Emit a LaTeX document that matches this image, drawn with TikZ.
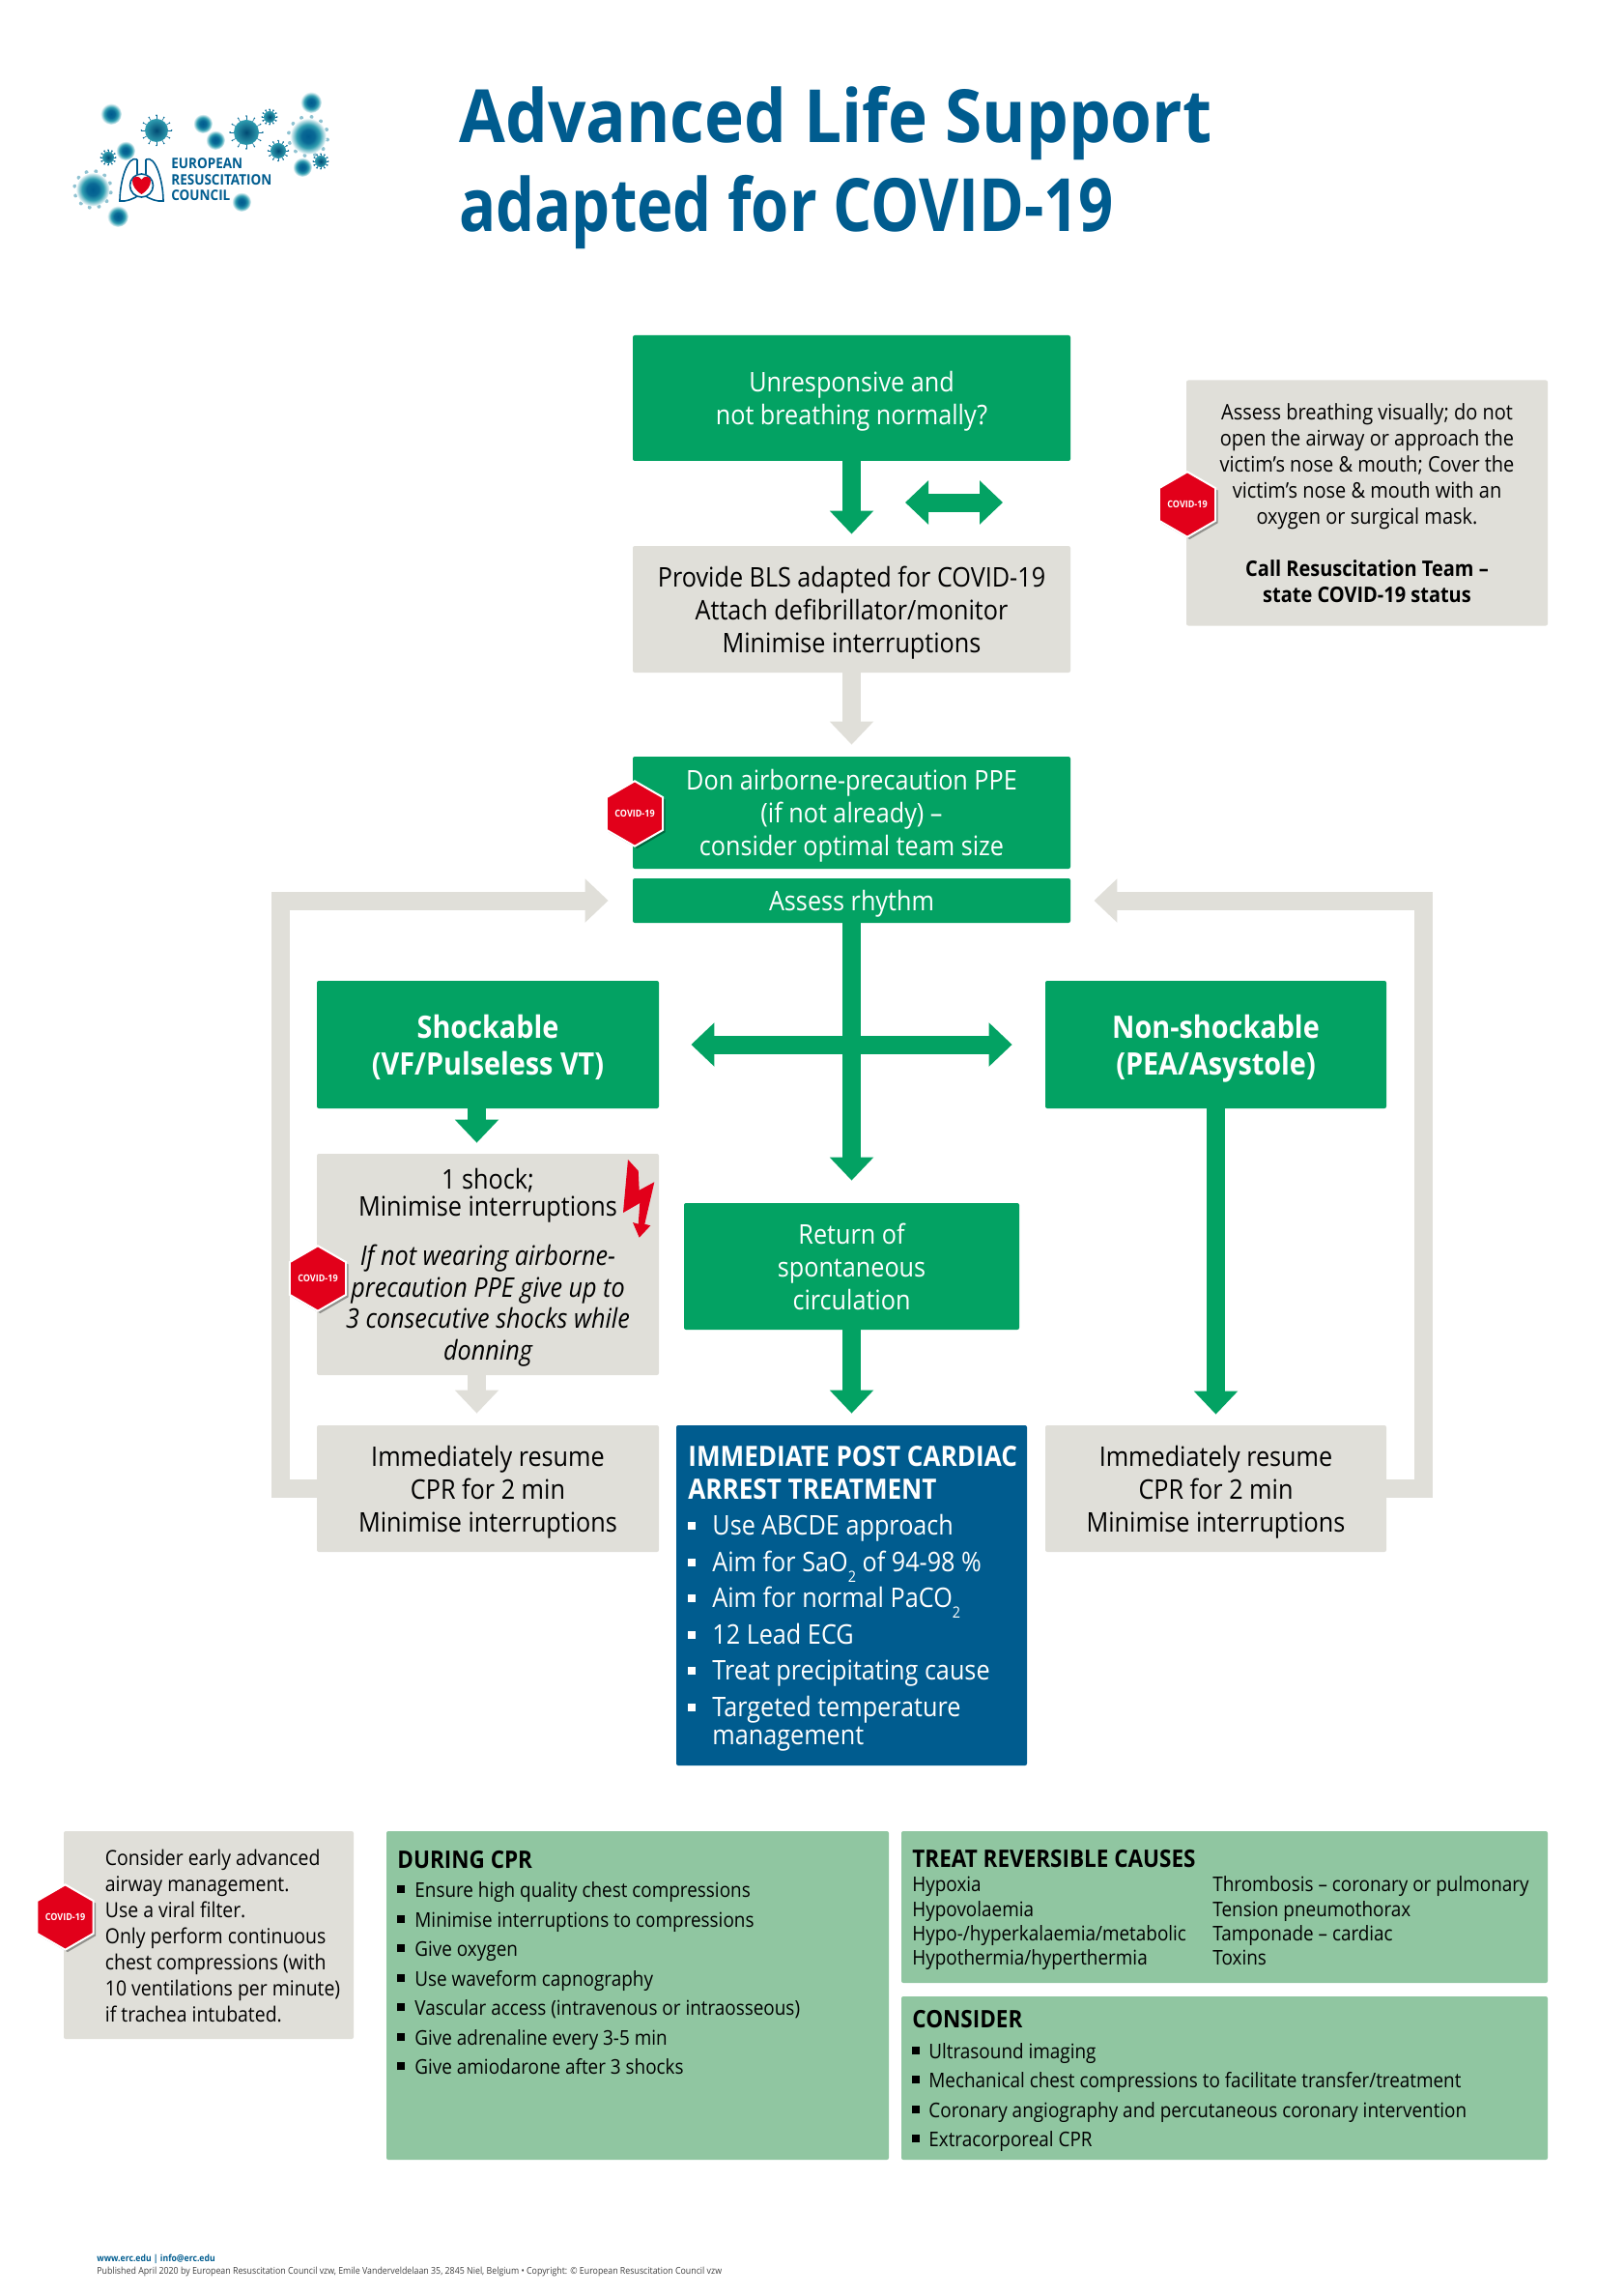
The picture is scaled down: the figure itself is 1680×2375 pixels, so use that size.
\documentclass[tikz,border=0pt]{standalone}
\usepackage{fontspec}
\setmainfont{Open Sans}[FakeStretch=0.9]
\newfontfamily\titlefont{Open Sans}[FakeStretch=0.912]
\newfontfamily\titlefontb{Open Sans}[FakeStretch=0.833]
\usetikzlibrary{arrows.meta,shapes.geometric,shadows,calc}
\definecolor{ercgreen}{HTML}{03A263}
\definecolor{ercgrey}{HTML}{E0DFD9}
\definecolor{ercblue}{HTML}{005C8F}
\definecolor{erclight}{HTML}{90C6A1}
\definecolor{ercred}{HTML}{E2001A}
\definecolor{ercteal}{HTML}{2F9DB0}
\pgfdeclareradialshading{fuzzy}{\pgfpoint{0bp}{0bp}}{color(0bp)=(ercblue); color(9bp)=(ercblue!80!ercteal); color(16bp)=(ercteal); color(25bp)=(white); color(50bp)=(white)}
\newcommand{\sqb}[1]{\makebox[#1][l]{\rule[.18em]{4pt}{4pt}}}
\newcommand{\lowtwo}{\raisebox{-.75ex}{\fontsize{8}{8}\selectfont 2}}
\tikzset{
    panel/.style={rectangle, rounded corners=1pt, inner sep=0pt, align=center, font=\fontsize{14}{17}\selectfont, text depth=-1.1pt},
    greenbox/.style={panel, fill=ercgreen, text=white},
    greybox/.style={panel, fill=ercgrey, text=black},
    lightbox/.style={panel, fill=erclight},
    bluebox/.style={panel, fill=ercblue},
    greenarrow/.style={draw=ercgreen, line width=9.5pt, -{Triangle[width=22pt,length=12pt]}},
    greyarrow/.style={draw=ercgrey, line width=9.5pt, -{Triangle[width=22pt,length=12pt]}},
    bothways/.style={draw=ercgreen, line width=9.5pt, {Triangle[width=22pt,length=12pt]}-{Triangle[width=22pt,length=12pt]}},
    covidhex/.style={regular polygon, regular polygon sides=6, shape border rotate=30, fill=ercred, draw=white, line width=1pt, minimum size=31pt, inner sep=0pt, text=white, font=\bfseries\fontsize{5}{6}\selectfont, drop shadow={shadow xshift=1.2pt, shadow yshift=-1.2pt, fill=black, opacity=.35}},
    bluetext/.style={anchor=base west, inner sep=0pt, text=white, font=\fontsize{14}{15}\selectfont},
    cprtext/.style={anchor=base west, inner sep=0pt, font=\fontsize{10.5}{12}\selectfont},
    headtext/.style={anchor=base west, inner sep=0pt, font=\bfseries\fontsize{12.5}{14}\selectfont},
    logotext/.style={anchor=base west, inner sep=0pt, text=ercblue, font=\bfseries\fontsize{7.5}{8}\selectfont},
}
\begin{document}
\begin{tikzpicture}[x=.5pt, y=-.5pt]
    \useasboundingbox (0, 0) rectangle (1680, 2375);

    % logo
    \foreach \vx/\vy/\vr in {162/135/12, 255/137/13, 279/121/6, 288/156/8, 332/167/6, 112/163/6} {
        \foreach \a in {0, 30, ..., 330} {
            \draw[ercblue!70!ercteal, line width=.3pt] (\vx, \vy) ++(\a:\vr) -- ++(\a:\vr*.3);
            \fill[ercblue!70!ercteal] (\vx, \vy) ++(\a:\vr*1.3) circle[radius=.9];
        }
        \shade[inner color=ercblue!80!black, outer color=ercteal] (\vx, \vy) circle[radius=\vr];
    }
    \foreach \vx/\vy/\vr in {319/141/15, 96/196/14} {
        \foreach \a in {10, 40, ..., 340}
            \fill[ercblue!35!ercteal, opacity=.5] (\vx, \vy) ++(\a:\vr*1.35) circle[radius=2];
        \shade[shading=fuzzy] (\vx, \vy) circle[radius=\vr*1.25];
    }
    \foreach \vx/\vy/\vr in {115/118/11, 210/128/10, 223/145/10, 322/106/11, 313/173/10, 130/156/10, 122/224/11, 250/209/10}
        \shade[shading=fuzzy] (\vx, \vy) circle[radius=\vr];
    \draw[ercblue, line width=.8pt] (142, 165) .. controls (132, 160) and (124, 188) .. (124, 208) .. controls (130, 209) and (138, 206) .. (144, 202);
    \draw[ercblue, line width=.8pt] (151, 165) .. controls (161, 160) and (169, 188) .. (169, 208) .. controls (163, 209) and (155, 206) .. (149, 202);
    \draw[ercblue, line width=.8pt] (142, 165) -- (142, 180) (151, 165) -- (151, 180);
    \draw[ercblue, line width=.8pt, fill=white] (146.5, 192) circle[radius=12];
    \fill[ercred] (146.5, 201) .. controls (140, 197) and (137, 192) .. (137, 187) .. controls (137, 182) and (144, 181) .. (146.5, 186) .. controls (149, 181) and (156, 182) .. (156, 187) .. controls (156, 192) and (153, 197) .. (146.5, 201);
    \node[logotext] (logoa) at (177, 175) {EUROPEAN};
    \node[logotext] (logob) at (177, 192) {RESUSCITATION};
    \node[logotext] (logoc) at (177, 208) {COUNCIL};

    % title
    \node[anchor=base west, inner sep=0pt, text=ercblue, font=\titlefont\bfseries\fontsize{38}{46}\selectfont] (titlea) at (475, 148) {Advanced Life Support};
    \node[anchor=base west, inner sep=0pt, text=ercblue, font=\titlefontb\bfseries\fontsize{38}{46}\selectfont] (titleb) at (475, 240) {adapted for COVID-19};

    % centre column
    \node[greenbox, minimum width=226.5pt, minimum height=65pt] (unresp) at (881.5, 412) {Unresponsive and\\not breathing normally?};
    \node[greybox, minimum width=226.5pt, minimum height=65.5pt] (bls) at (881.5, 630.5) {Provide BLS adapted for COVID-19\\Attach defibrillator/monitor\\Minimise interruptions};
    \node[greenbox, minimum width=226.5pt, minimum height=58pt] (ppe) at (881.5, 841) {Don airborne-precaution PPE\\(if not already) --\\consider optimal team size};
    \node[greenbox, minimum width=226.5pt, minimum height=23pt] (assess) at (881.5, 932) {Assess rhythm};
    \node[greenbox, minimum width=173.5pt, minimum height=65.5pt] (rosc) at (881.5, 1310.5) {Return of\\spontaneous\\circulation};
    \node[bluebox, minimum width=181.5pt, minimum height=176pt] (treatment) at (881.5, 1651) {};

    % left column
    \node[greenbox, minimum width=177pt, minimum height=66pt, font=\bfseries\fontsize{16}{19}\selectfont] (shock) at (505, 1081) {Shockable\\(VF/Pulseless VT)};
    \node[greybox, minimum width=177pt, minimum height=114.5pt, font=\fontsize{14}{16.3}\selectfont] (onceshock) at (505, 1308.5) {1 shock;\\[-2.3pt]Minimise interruptions\\[9.2pt]\itshape If not wearing airborne-\\\itshape precaution PPE give up to\\\itshape 3 consecutive shocks while\\\itshape donning};
    \node[greybox, minimum width=177pt, minimum height=65.5pt] (resumel) at (505, 1540.5) {Immediately resume\\CPR for 2 min\\Minimise interruptions};

    % right column
    \node[greenbox, minimum width=176.5pt, minimum height=66pt, font=\bfseries\fontsize{16}{19}\selectfont] (nonshock) at (1258.5, 1081) {Non-shockable\\(PEA/Asystole)};
    \node[greybox, minimum width=176.5pt, minimum height=65.5pt] (resumer) at (1258.5, 1540.5) {Immediately resume\\CPR for 2 min\\Minimise interruptions};
    \node[greybox, minimum width=187pt, minimum height=127pt, font=\fontsize{11.1}{13.5}\selectfont] (assessnote) at (1415, 520.5) {Assess breathing visually; do not\\open the airway or approach the\\victim's nose \& mouth; Cover the\\victim's nose \& mouth with an\\oxygen or surgical mask.\\[13.5pt]\bfseries Call Resuscitation Team --\\\bfseries state COVID-19 status};

    % connectors
    \coordinate (swapa) at (937, 520);
    \coordinate (swapb) at (1038, 520);
    \coordinate (returnl) at (290, 1200);
    \coordinate (returnr) at (1473.5, 1200);
    \draw[greenarrow, shorten >=6pt] (unresp) -- (bls);
    \draw[bothways] (swapa) -- (swapb);
    \draw[greyarrow, shorten >=6pt] (bls) -- (ppe);
    \draw[bothways, shorten >=17pt, shorten <=16.5pt] (shock.east) -- (nonshock.west);
    \draw[greenarrow, shorten >=11.5pt] (assess.south) -- (rosc.north);
    \draw[greenarrow, shorten >=6pt] (rosc) -- (treatment);
    \draw[greenarrow, shorten >=5.5pt] ([xshift=-5.75pt]shock.south) -- ([xshift=-5.75pt]onceshock.north);
    \draw[greyarrow, shorten >=6pt] ([xshift=-5.75pt]onceshock.south) -- ([xshift=-5.75pt]resumel.north);
    \draw[greenarrow, shorten >=5.5pt] (nonshock) -- (resumer);
    \draw[greyarrow, shorten >=12.5pt] (resumel.west) -| (returnl) |- (assess.west);
    \draw[greyarrow, shorten >=12pt] (resumer.east) -| (returnr) |- (assess.east);

    % bolt
    \fill[ercred] (650, 1200) -- (660.7, 1211.7) -- (661.7, 1231.7) -- (677.3, 1223.3) -- (667.3, 1266.7) -- (673.3, 1268.3) -- (661.7, 1280.7) -- (655, 1265) -- (660.7, 1266.7) -- (662.3, 1245) -- (645, 1255) -- cycle;

    % post cardiac arrest text
    \node[bluetext, font=\bfseries\fontsize{14.5}{15}\selectfont] (bluea) at (712, 1517) {IMMEDIATE POST CARDIAC};
    \node[bluetext, font=\bfseries\fontsize{14.5}{15}\selectfont] (blueb) at (712, 1551) {ARREST TREATMENT};
    \foreach \y/\txt [count=\i] in {1588/Use ABCDE approach, 1626/Aim for SaO\lowtwo{} of 94-98 \%, 1663/Aim for normal PaCO\lowtwo, 1701/12 Lead ECG, 1738/Treat precipitating cause, 1776/Targeted temperature}
        \node[bluetext] (blueitem\i) at (712, \y) {\sqb{12.5pt}\txt};
    \node[bluetext] (blueitem7) at (737, 1805) {management};

    % bottom row
    \node[greybox, minimum width=150pt, minimum height=107.5pt] (airway) at (216, 2002.5) {};
    \foreach \y/\txt [count=\i] in {1930/Consider early advanced, 1957/airway management., 1984/Use a viral filter., 2011/Only perform continuous, 2038/chest compressions (with, 2065/10 ventilations per minute), 2092/if trachea intubated.}
        \node[cprtext, font=\fontsize{10.8}{12}\selectfont] (airway\i) at (108.5, \y) {\txt};

    \node[lightbox, minimum width=260pt, minimum height=170pt] (during) at (660, 2065) {};
    \node[headtext] (duringhead) at (411, 1933) {DURING CPR};
    \foreach \y/\txt [count=\i] in {1963/Ensure high quality chest compressions, 1994/Minimise interruptions to compressions, 2024/Give oxygen, 2055/Use waveform capnography, 2085/Vascular access (intravenous or intraosseous), 2116/Give adrenaline every 3-5 min, 2146/Give amiodarone after 3 shocks}
        \node[cprtext] (during\i) at (411, \y) {\sqb{9pt}\txt};

    \node[lightbox, minimum width=334.5pt, minimum height=78.5pt] (causes) at (1267.5, 1973.5) {};
    \node[headtext] (causeshead) at (944, 1932) {TREAT REVERSIBLE CAUSES};
    \foreach \y/\txt [count=\i] in {1957/Hypoxia, 1983/Hypovolaemia, 2008/{Hypo-/hyperkalaemia/metabolic}, 2033/{Hypothermia/hyperthermia}}
        \node[cprtext] (causel\i) at (944, \y) {\txt};
    \foreach \y/\txt [count=\i] in {1957/Thrombosis -- coronary or pulmonary, 1983/Tension pneumothorax, 2008/Tamponade -- cardiac, 2033/Toxins}
        \node[cprtext] (causer\i) at (1255, \y) {\txt};

    \node[lightbox, minimum width=334.5pt, minimum height=84.5pt] (consider) at (1267.5, 2150.5) {};
    \node[headtext] (considerhead) at (944, 2098) {CONSIDER};
    \foreach \y/\txt [count=\i] in {2130/Ultrasound imaging, 2160/{Mechanical chest compressions to facilitate transfer/treatment}, 2191/Coronary angiography and percutaneous coronary intervention, 2221/Extracorporeal CPR}
        \node[cprtext] (consider\i) at (944, \y) {\sqb{8.5pt}\txt};

    % hexagons
    \node[covidhex] (hexa) at (1229, 522) {COVID-19};
    \node[covidhex] (hexb) at (657, 842) {COVID-19};
    \node[covidhex] (hexc) at (329, 1323) {COVID-19};
    \node[covidhex] (hexd) at (67.5, 1984) {COVID-19};

    % footer
    \node[anchor=base west, inner sep=0pt, text=ercblue, font=\bfseries\fontsize{4.8}{6}\selectfont] (footera) at (100, 2340) {www.erc.edu | info@erc.edu};
    \node[anchor=base west, inner sep=0pt, text=black!75, font=\fontsize{4.9}{6}\selectfont] (footerb) at (100, 2353) {Published April 2020 by European Resuscitation Council vzw, Emile Vanderveldelaan 35, 2845 Niel, Belgium • Copyright: © European Resuscitation Council vzw};
\end{tikzpicture}
\end{document}
